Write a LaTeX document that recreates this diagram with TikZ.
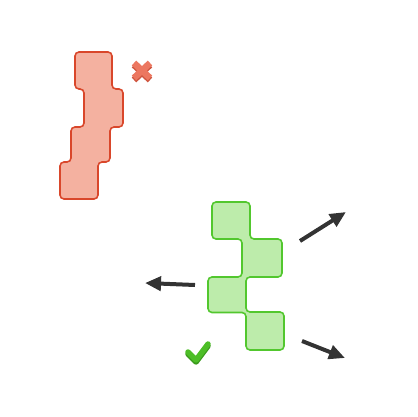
\documentclass[tikz,border=0pt]{standalone}
\usepackage{tikz}
\usetikzlibrary{arrows.meta}

\definecolor{redline}{HTML}{D9472B}
\definecolor{redfill}{HTML}{F4B1A0}
\definecolor{crossred}{HTML}{EC7760}
\definecolor{crossdark}{HTML}{CF5640}
\definecolor{greenline}{HTML}{52C72E}
\definecolor{greenfill}{HTML}{BDECAB}
\definecolor{tickgreen}{HTML}{4DBE27}
\definecolor{tickdark}{HTML}{3A9A1C}
\definecolor{arrowgray}{HTML}{333333}

\begin{document}
\begin{tikzpicture}[x=1pt, y=-1pt,
    redblock/.style={draw=redline, fill=redfill, line width=1.6pt, rounded corners=4pt},
    greenblock/.style={draw=greenline, fill=greenfill, line width=1.6pt, rounded corners=4pt},
    movearrow/.style={draw=arrowgray, line width=4pt, -{Triangle[length=16pt, width=14pt]}} ]
        \useasboundingbox (0,0) rectangle (417,417);
        % red piece
        \draw[redblock] (75,52) -- (112,52) -- (112,89) -- (123,89) -- (123,127) -- (110,127)
            -- (110,162) -- (98,162) -- (98,199) -- (60,199) -- (60,162) -- (71,162)
            -- (71,127) -- (84,127) -- (84,89) -- (75,89) -- cycle;
        % cross
        \draw[crossdark, line width=6.5pt] (134,65) -- (150,80) (150,65) -- (134,80);
        \draw[crossred, line width=6.5pt] (134,63) -- (150,78) (150,63) -- (134,78);
        % green piece
        \draw[greenblock] (212,202) -- (250,202) -- (250,239) -- (282,239) -- (282,277) -- (246,277)
            -- (246,312) -- (284,312) -- (284,350) -- (246,350) -- (246,312.5) -- (208,312.5)
            -- (208,277) -- (242,277) -- (242,239) -- (212,239) -- cycle;
        % tick
        \draw[tickdark, line width=5.5pt, line cap=round, line join=round] (188,354) -- (196,362) -- (208,346);
        \draw[tickgreen, line width=5.5pt, line cap=round, line join=round] (188,352) -- (196,360) -- (208,344);
        % arrows
        \coordinate (a1) at (300,241);
        \coordinate (b1) at (346,212);
        \coordinate (a2) at (195,285);
        \coordinate (b2) at (145,283);
        \coordinate (a3) at (302,341);
        \coordinate (b3) at (345,358);
        \draw[movearrow] (a1) -- (b1);
        \draw[movearrow] (a2) -- (b2);
        \draw[movearrow] (a3) -- (b3);
    \end{tikzpicture}
\end{document}
